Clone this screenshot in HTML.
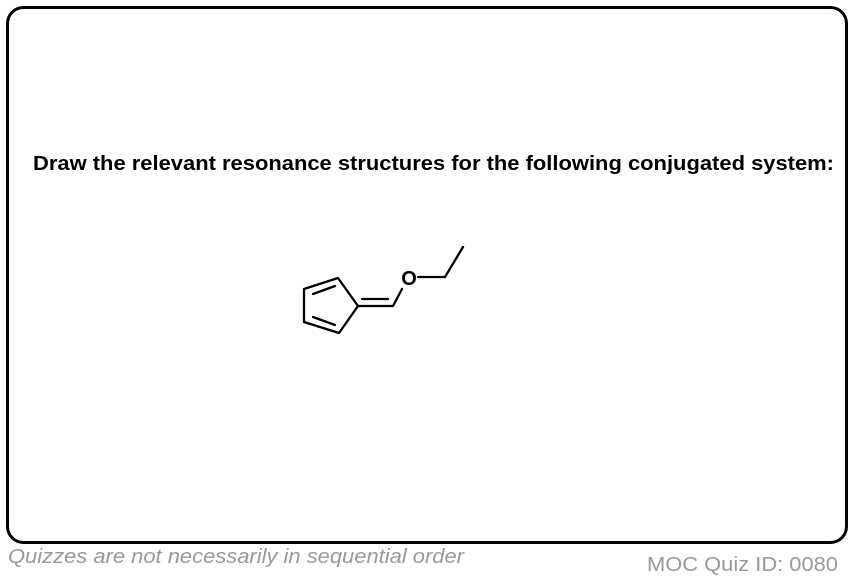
<!DOCTYPE html>
<html><head><meta charset="utf-8"><style>
html,body{margin:0;padding:0;background:#fff;}
svg{display:block;}
</style></head><body>
<svg width="854" height="580" viewBox="0 0 854 580" xmlns="http://www.w3.org/2000/svg">
<rect x="7.5" y="7.5" width="839" height="535" rx="16" ry="16" fill="#fff" stroke="#000" stroke-width="3"/>
<text x="33" y="170" font-family="Liberation Sans, sans-serif" font-weight="bold" font-size="20" textLength="801" lengthAdjust="spacingAndGlyphs" fill="#000">Draw the relevant resonance structures for the following conjugated system:</text>
<g stroke="#000" stroke-width="2.3" fill="none" stroke-linecap="round" stroke-linejoin="round">
<polygon points="338,278 304,289 304,322 339,333 358,306"/>
<line x1="313" y1="294" x2="335" y2="286"/>
<line x1="313" y1="317" x2="335" y2="325"/>
<line x1="358" y1="306" x2="393" y2="306"/>
<line x1="362" y1="299" x2="388" y2="299"/>
<line x1="393" y1="306" x2="402" y2="289"/>
<line x1="418" y1="277" x2="445" y2="277"/>
<line x1="445" y1="277" x2="463" y2="247"/>
</g>
<text x="409" y="285" font-family="Liberation Sans, sans-serif" font-weight="bold" font-size="20" text-anchor="middle" fill="#000">O</text>
<text x="8" y="563" font-family="Liberation Sans, sans-serif" font-style="italic" font-size="20" fill="#999" textLength="456" lengthAdjust="spacingAndGlyphs">Quizzes are not necessarily in sequential order</text>
<text x="647" y="571" font-family="Liberation Sans, sans-serif" font-size="20" fill="#999" textLength="191" lengthAdjust="spacingAndGlyphs">MOC Quiz ID: 0080</text>
</svg>
</body></html>
